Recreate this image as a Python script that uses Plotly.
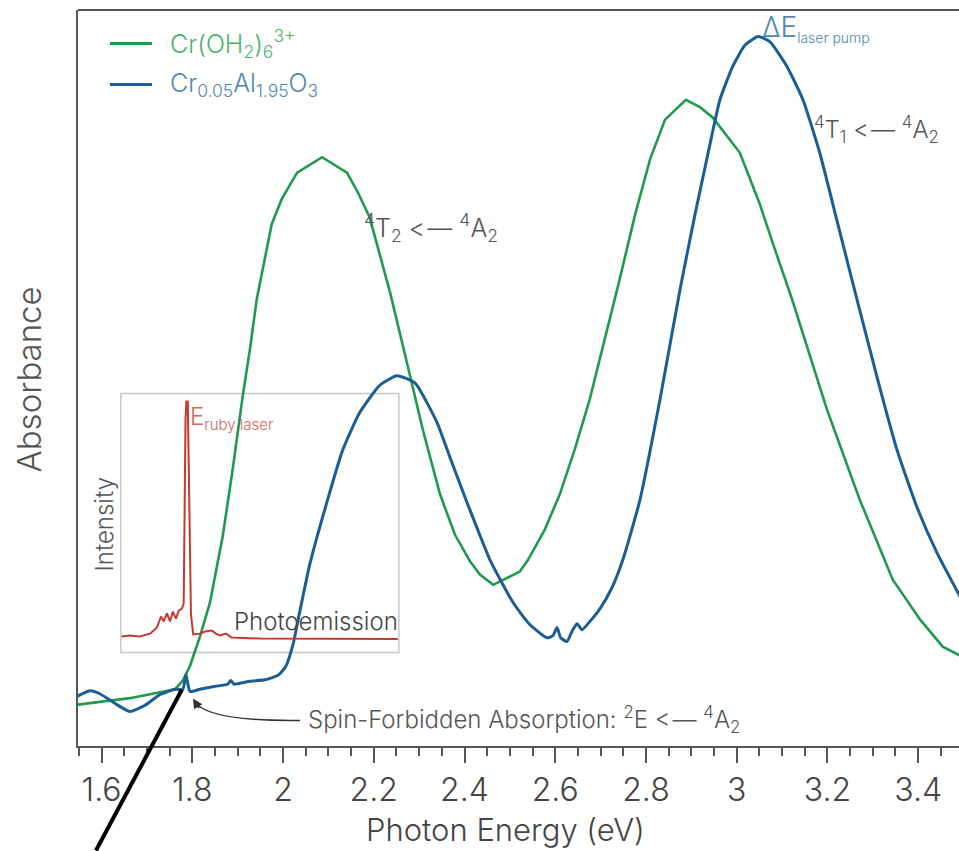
import plotly.graph_objects as go

# ---------------- data ----------------
# Cr(OH2)6 3+ absorbance (photon energy eV, absorbance a.u.)
green_E = [1.545, 1.662, 1.762, 1.779, 1.795, 1.817, 1.839, 1.867, 1.889, 1.911,
           1.927, 1.942, 1.975, 1.997, 2.031, 2.086, 2.141, 2.165, 2.191, 2.236,
           2.273, 2.308, 2.346, 2.379, 2.412, 2.434, 2.463, 2.522, 2.540, 2.577,
           2.610, 2.643, 2.676, 2.709, 2.742, 2.776, 2.809, 2.842, 2.888, 2.919,
           2.947, 3.007, 3.051, 3.084, 3.122, 3.199, 3.271, 3.344, 3.404, 3.454, 3.495]
green_A = [0.056, 0.065, 0.077, 0.089, 0.109, 0.149, 0.195, 0.285, 0.376, 0.475,
           0.539, 0.607, 0.709, 0.743, 0.779, 0.800, 0.779, 0.752, 0.718, 0.616,
           0.521, 0.430, 0.342, 0.287, 0.251, 0.233, 0.219, 0.237, 0.253, 0.294,
           0.342, 0.403, 0.471, 0.552, 0.634, 0.722, 0.797, 0.851, 0.878, 0.868,
           0.854, 0.806, 0.736, 0.675, 0.607, 0.457, 0.335, 0.226, 0.172, 0.135, 0.122]

# Cr0.05Al1.95O3 (ruby) absorbance
blue_E = [1.545, 1.574, 1.596, 1.629, 1.662, 1.695, 1.729, 1.762, 1.779, 1.786,
          1.790, 1.795, 1.817, 1.850, 1.878, 1.885, 1.892, 1.927, 1.960, 1.989,
          2.006, 2.022, 2.037, 2.059, 2.097, 2.132, 2.169, 2.213, 2.251, 2.291,
          2.339, 2.368, 2.401, 2.429, 2.456, 2.507, 2.544, 2.582, 2.595, 2.604,
          2.612, 2.626, 2.637, 2.648, 2.659, 2.676, 2.698, 2.725, 2.749, 2.787,
          2.831, 2.875, 2.908, 2.934, 2.963, 2.991, 3.018, 3.047, 3.073, 3.111,
          3.146, 3.183, 3.223, 3.265, 3.309, 3.353, 3.397, 3.441, 3.495]
blue_A = [0.067, 0.075, 0.071, 0.058, 0.047, 0.055, 0.070, 0.077, 0.077, 0.097,
          0.085, 0.074, 0.077, 0.081, 0.084, 0.089, 0.084, 0.088, 0.090, 0.096,
          0.108, 0.138, 0.183, 0.247, 0.332, 0.403, 0.453, 0.490, 0.503, 0.493,
          0.440, 0.392, 0.338, 0.294, 0.253, 0.195, 0.165, 0.147, 0.150, 0.161,
          0.147, 0.142, 0.156, 0.166, 0.158, 0.169, 0.186, 0.215, 0.253, 0.335,
          0.471, 0.620, 0.722, 0.797, 0.878, 0.923, 0.952, 0.964, 0.957, 0.923,
          0.878, 0.806, 0.709, 0.607, 0.502, 0.403, 0.325, 0.263, 0.200]

# inset: ruby photoemission (photon energy eV, intensity a.u.)
red_E = [1.644, 1.662, 1.684, 1.707, 1.722, 1.731, 1.737, 1.744, 1.751, 1.757,
         1.764, 1.770, 1.777, 1.781, 1.785, 1.787, 1.790, 1.794, 1.797, 1.802,
         1.817, 1.828, 1.843, 1.852, 1.861, 1.874, 1.887, 1.949, 2.037, 2.125, 2.253]
red_I = [0.062, 0.066, 0.062, 0.073, 0.097, 0.139, 0.120, 0.151, 0.120, 0.158,
         0.131, 0.162, 0.170, 0.189, 0.900, 0.969, 0.969, 0.514, 0.147, 0.070,
         0.073, 0.081, 0.085, 0.073, 0.066, 0.073, 0.058, 0.054, 0.054, 0.052, 0.052]

x_range = [1.548, 3.49]
x_dtick = 0.2
inset_E = [1.6425, 2.2553]
inset_paper = [0.127, 0.479]   # vertical extent of the inset box (fraction of plot height)
# intensity axis overlaid on the absorbance axis so that I=0..1 fills the inset box
span = inset_paper[1] - inset_paper[0]
y2_range = [-inset_paper[0] / span, (1 - inset_paper[0]) / span]

GREEN, GREEN_T = "#1f9a4f", "#4cb36d"
BLUE, BLUE_T = "#1b5e93", "#4f88b5"
RED, RED_T = "#c23a30", "#d4675e"
GRAY = "#555555"
FONT = "Inter"
W = 300
ARROW = "&lt;\u200c\u200a—"   # '<—' kept as two glyphs (no ligature)

fig = go.Figure()
fig.add_trace(go.Scatter(x=red_E, y=red_I, mode="lines", name="Photoemission",
                         xaxis="x", yaxis="y2",
                         line=dict(color=RED, width=2), showlegend=False))
fig.add_trace(go.Scatter(x=green_E, y=green_A, mode="lines", name="Cr(OH2)6 3+",
                         line=dict(color=GREEN, width=2.6), showlegend=False))
fig.add_trace(go.Scatter(x=blue_E, y=blue_A, mode="lines", name="Cr0.05Al1.95O3",
                         line=dict(color=BLUE, width=3, shape="spline", smoothing=0.5),
                         showlegend=False))

fig.update_layout(
    width=959, height=851,
    margin=dict(l=78, r=0, t=10, b=105),
    paper_bgcolor="white", plot_bgcolor="white",
    font=dict(family=FONT, size=28, color=GRAY, weight=W),
    xaxis=dict(range=x_range, tick0=1.6, dtick=x_dtick, showgrid=False, zeroline=False,
               showline=True, linecolor=GRAY, linewidth=2,
               ticks="outside", ticklen=15, tickwidth=2, tickcolor=GRAY,
               tickfont=dict(family=FONT, size=32, color="#444", weight=W),
               minor=dict(dtick=0.05, ticks="outside", ticklen=8, tickwidth=1.5, tickcolor=GRAY),
               anchor="y"),
    yaxis=dict(range=[0, 1], showgrid=False, zeroline=False, showline=True,
               linecolor=GRAY, linewidth=2, ticks="", showticklabels=False),
    yaxis2=dict(range=y2_range, overlaying="y", anchor="x", visible=False),
)

shapes = [
    # top frame line
    dict(type="line", xref="paper", yref="paper", x0=0, x1=1, y0=1, y1=1,
         line=dict(color=GRAY, width=2)),
    # inset box
    dict(type="rect", xref="x", yref="paper", x0=inset_E[0], x1=inset_E[1],
         y0=inset_paper[0], y1=inset_paper[1],
         line=dict(color="#c8c8c8", width=1.5), layer="below"),
    # legend keys
    dict(type="line", xref="paper", yref="paper", x0=0.0363, x1=0.084, y0=0.9545, y1=0.9545,
         line=dict(color=GREEN, width=3)),
    dict(type="line", xref="paper", yref="paper", x0=0.0363, x1=0.084, y0=0.8988, y1=0.8988,
         line=dict(color=BLUE, width=3)),
    # curved annotation arrow
    dict(type="path", xref="paper", yref="paper",
         path="M 0.252 0.0347 Q 0.1442 0.0333 0.1317 0.0618",
         line=dict(color="#333", width=1.5)),
    # thick black pointer line
    dict(type="line", xref="paper", yref="paper", x0=0.0204, y0=-0.142, x1=0.118, y1=0.0768,
         line=dict(color="black", width=4)),
]
fig.update_layout(shapes=shapes)

def ann(text, x, y, size, color=GRAY, xanchor="left", yanchor="middle", angle=0):
    return dict(text=text, x=x, y=y, xref="paper", yref="paper", showarrow=False,
                xanchor=xanchor, yanchor=yanchor, textangle=angle,
                font=dict(family=FONT, size=size, color=color, weight=W))

def small(t, px):
    return "<span style='font-size:%dpx'>%s</span>" % (px, t)

annotations = [
    ann("Cr(OH<sub>2</sub>)<sub>6</sub><sup>3+</sup>", 0.1022, 0.9545, 25, GREEN_T),
    ann("Cr<sub>0.05</sub>Al<sub>1.95</sub>O<sub>3</sub>", 0.1022, 0.8988, 25, BLUE_T),
    ann("ΔE<sub>" + small("laser pump", 14) + "</sub>", 0.774, 0.976, 28, BLUE_T),
    ann("<sup>4</sup>T<sub>1</sub> " + ARROW + " <sup>4</sup>A<sub>2</sub>", 0.833, 0.8376, 24),
    ann("<sup>4</sup>T<sub>2</sub> " + ARROW + " <sup>4</sup>A<sub>2</sub>", 0.3224, 0.7045, 25),
    ann("E<sub>" + small("ruby laser", 15) + "</sub>", 0.1249, 0.4463, 24, RED_T),
    ann("Photoemission", 0.1748, 0.1692, 24, "#444"),
    ann("Intensity", 0.0306, 0.301, 24, GRAY, xanchor="center", angle=-90),
    ann("Absorbance", -0.0556, 0.498, 33, GRAY, xanchor="center", angle=-90),
    ann("Photon Energy (eV)", 0.4858, -0.1135, 31, "#444", xanchor="center"),
    ann("Spin-Forbidden Absorption: <sup>2</sup>E " + ARROW + " <sup>4</sup>A<sub>2</sub>",
        0.2588, 0.036, 24),
    dict(text="", x=0.1305, y=0.0645, xref="paper", yref="paper", showarrow=True,
         ax=7, ay=11, arrowhead=2, arrowsize=1.3, arrowwidth=1.5, arrowcolor="#333"),
]
fig.update_layout(annotations=annotations)

fig.write_html("out.html")
